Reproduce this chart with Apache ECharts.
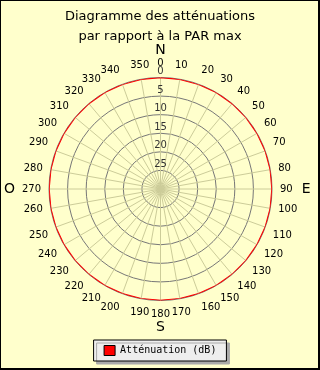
<!DOCTYPE html>
<html><head><meta charset="utf-8">
<script src="https://cdn.jsdelivr.net/npm/echarts@6/dist/echarts.min.js"></script>
<style>
html,body{margin:0;padding:0;background:#fff;}
#wrap{position:relative;width:320px;height:370px;}
#c{width:320px;height:370px;}
#frame{position:absolute;left:0;top:0;width:320px;height:370px;box-sizing:border-box;border-left:1px solid #000;border-top:1px solid #000;border-right:2px solid #000;border-bottom:2px solid #000;pointer-events:none;}
</style></head>
<body><div id="wrap"><div id="c"></div><div id="frame"></div></div>
<script>
const titleLines = ['Diagramme des atténuations', 'par rapport à la PAR max'];
const seriesName = 'Atténuation (dB)';
const angles = [0,10,20,30,40,50,60,70,80,90,100,110,120,130,140,150,160,170,180,190,200,210,220,230,240,250,260,270,280,290,300,310,320,330,340,350,360];
const attenuation = [0,0,0,0,0,0,0,0,0,0,0,0,0,0,0,0,0,0,0,0,0,0,0,0,0,0,0,0,0,0,0,0,0,0,0,0,0];
const cardinals = {0:'N', 90:'E', 180:'S', 270:'O'};
const radiusMin = 0, radiusMax = 30, radiusStep = 5;

const chart = echarts.init(document.getElementById('c'), null, {renderer:'canvas'});
const data = angles.map((a,i)=>[attenuation[i], a]);
chart.setOption({
  backgroundColor:'#ffffcc',
  animation:false,
  textStyle:{fontFamily:'DejaVu Sans'},
  title:{
    text: titleLines.join('\n'),
    left:'center', top:2,
    textStyle:{fontFamily:'DejaVu Sans', fontSize:13, fontWeight:'normal', color:'#000', lineHeight:20}
  },
  polar:{center:[160.5,189], radius:111.5},
  angleAxis:{
    type:'value', min:0, max:360, interval:10, startAngle:90, clockwise:true,
    axisLine:{show:false}, axisTick:{show:false},
    splitLine:{show:true, lineStyle:{color:'#cccc99', width:1}},
    axisLabel:{
      margin:8, color:'#000', fontSize:10, fontFamily:'DejaVu Sans', lineHeight:12,
      formatter:function(v){
        if (v===0) return '{c|N}\n0';
        if (v===90) return '90{e|E}';
        if (v===180) return '180\n{c|S}';
        if (v===270) return '{o|O}270';
        if (v===360) return '';
        return String(v);
      },
      rich:{
        c:{fontSize:14, lineHeight:14, color:'#000', fontFamily:'DejaVu Sans'},
        e:{fontSize:14, color:'#000', fontFamily:'DejaVu Sans', padding:[0,0,0,9]},
        o:{fontSize:14, color:'#000', fontFamily:'DejaVu Sans', padding:[0,7,0,0]}
      }
    }
  },
  radiusAxis:{
    type:'value', min:radiusMin, max:radiusMax, interval:radiusStep, inverse:true,
    axisLine:{show:false}, axisTick:{show:false},
    splitLine:{show:true, lineStyle:{color:'#777777', width:1}},
    axisLabel:{
      margin:0, align:'center', verticalAlign:'bottom', color:'#333', fontSize:10,
      fontFamily:'DejaVu Sans', padding:[0,0,1,0], showMaxLabel:false,
      formatter:function(v){ return v===radiusMax ? '' : String(v); }
    }
  },
  legend:{
    bottom:9, left:'center',
    data:[seriesName],
    backgroundColor:'#eeeeee', borderColor:'#000', borderWidth:1,
    shadowColor:'#aaaaaa', shadowOffsetX:3, shadowOffsetY:3, shadowBlur:0,
    padding:[5,10,5,10],
    itemWidth:11, itemHeight:10, itemGap:5,
    icon:'rect',
    itemStyle:{borderColor:'#000', borderWidth:1},
    textStyle:{fontFamily:'DejaVu Sans Mono', fontSize:10, color:'#000'}
  },
  series:[{
    name:seriesName, type:'line', coordinateSystem:'polar',
    data:data, showSymbol:false, symbol:'none',
    lineStyle:{color:'#ff0000', width:1.5}, itemStyle:{color:'#ff0000'}
  }]
});
</script></body></html>
